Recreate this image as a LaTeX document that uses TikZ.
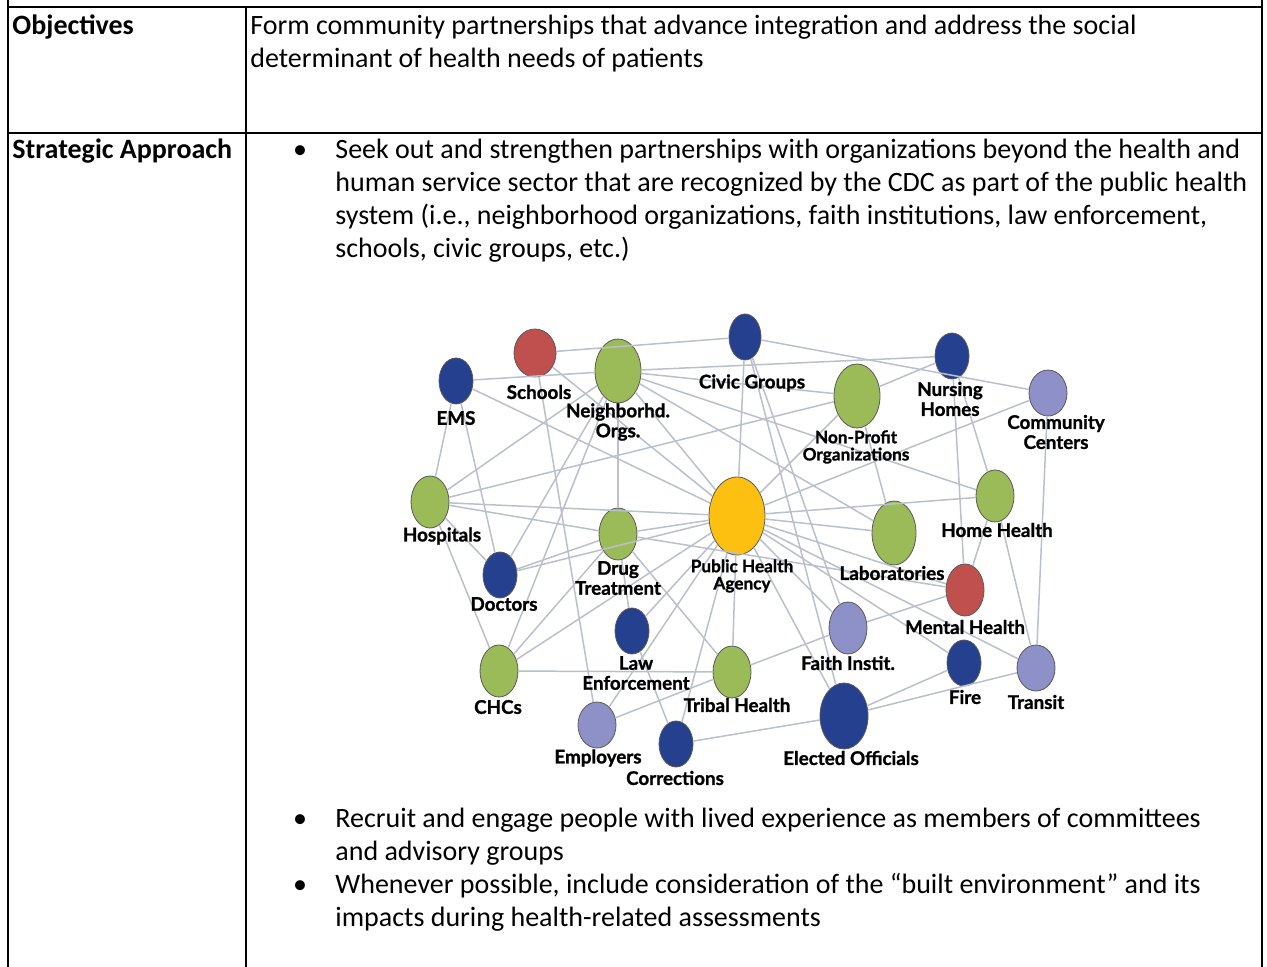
\documentclass[tikz,border=0pt]{standalone}
\usepackage{fontspec}
\setmainfont{Carlito}
\newfontfamily\netfont[BoldFeatures={FakeBold=1.2}]{Lato}
\usetikzlibrary{shapes.geometric}

\definecolor{netblue}{HTML}{25408F}
\definecolor{netred}{HTML}{C0504D}
\definecolor{netgreen}{HTML}{9BBB59}
\definecolor{netlilac}{HTML}{8E90C8}
\definecolor{netgold}{HTML}{FDC010}
\definecolor{netedge}{HTML}{B9C0CC}

\tikzset{
  rule/.style={line width=1pt},
  cell/.style={anchor=base west, inner sep=0pt, font=\fontsize{14}{16}\selectfont},
  head/.style={cell, font=\fontsize{14}{16}\selectfont\bfseries},
  dot/.style={anchor=base, inner sep=0pt, font=\fontsize{14}{16}\selectfont},
  hub/.style={ellipse, draw=black!65, line width=0.4pt, inner sep=0pt},
  tag/.style={inner sep=0pt, align=center, font=\netfont\bfseries\fontsize{9.4}{10}\selectfont},
  smalltag/.style={inner sep=0pt, align=center, font=\netfont\bfseries\fontsize{8.6}{8.6}\selectfont},
  link/.style={draw=netedge, line width=0.75pt},
}

\begin{document}
\begin{tikzpicture}[x=0.5pt,y=-0.5pt]
\useasboundingbox (0,0) rectangle (1267,967);

% table rules
\draw[rule] (8,7) -- (1262,7);
\draw[rule] (8,133) -- (1262,133);
\draw[rule] (8,0) -- (8,967);
\draw[rule] (246,7) -- (246,967);
\draw[rule] (1262,0) -- (1262,967);

% row 1
\node[head] (objhead) at (12,35) {Objectives};
\node[cell] (obj1) at (250,35) {Form community partnerships that advance integration and address the social};
\node[cell] (obj2) at (250,68) {determinant of health needs of patients};

% row 2
\node[head] (strathead) at (12,159) {Strategic Approach};
\node[dot] (b1) at (300,159) {\textbullet};
\node[cell] (s1) at (335,159) {Seek out and strengthen partnerships with organizations beyond the health and};
\node[cell] (s2) at (335,192) {human service sector that are recognized by the CDC as part of the public health};
\node[cell] (s3) at (335,225) {system (i.e., neighborhood organizations, faith institutions, law enforcement,};
\node[cell] (s4) at (335,258) {schools, civic groups, etc.)};

\node[dot] (b2) at (300,827) {\textbullet};
\node[cell] (r1) at (335,827) {Recruit and engage people with lived experience as members of committees};
\node[cell] (r2) at (335,860) {and advisory groups};
\node[dot] (b3) at (300,893) {\textbullet};
\node[cell] (w1) at (335,893) {Whenever possible, include consideration of the “built environment” and its};
\node[cell] (w2) at (335,926) {impacts during health-related assessments};

% network nodes
\foreach \n/\x/\y/\rx/\ry/\c in {
  ems/456/381/17/23/netblue, schools/535/353/21/24/netred,
  nbhd/618/371/23/32/netgreen, civic/745/337/16/23/netblue,
  hosp/430/502/19/26/netgreen, drug/618/534/19/26/netgreen,
  pha/737/516/28/39/netgold, nonprofit/857/396/23/32/netgreen,
  nursing/952/356/17/23/netblue, community/1048/393/19/23/netlilac,
  homehealth/995/496/19/26/netgreen, labs/894/533/22/32/netgreen,
  mental/965/590/19/26/netred, doctors/500/575/17/23/netblue,
  law/632/631/17/23/netblue, chcs/499/671/19/26/netgreen,
  employers/597/725/19/23/netlilac, corrections/676/744/17/23/netblue,
  tribal/732/672/19/26/netgreen, faith/848/628/19/26/netlilac,
  elected/844/716/24/33/netblue, fire/964/663/17/23/netblue,
  transit/1036/668/19/23/netlilac}
  \node[hub, fill=\c, minimum width=\rx pt, minimum height=\ry pt] (\n) at (\x,\y) {};

% links
\foreach \a/\b in {
  ems/nbhd, ems/hosp, ems/doctors, ems/pha,
  schools/civic, schools/employers, schools/pha,
  nbhd/nursing, nbhd/pha, nbhd/drug, nbhd/hosp, nbhd/chcs, nbhd/doctors,
  nbhd/nonprofit, nbhd/homehealth, nbhd/labs,
  civic/community, civic/pha, civic/elected, civic/faith,
  hosp/nonprofit, hosp/pha, hosp/drug, hosp/doctors, hosp/chcs,
  drug/law, drug/tribal, drug/doctors, drug/pha, drug/chcs, drug/mental,
  doctors/pha, chcs/tribal, chcs/pha,
  pha/nonprofit, pha/community, pha/homehealth, pha/labs, pha/mental,
  pha/faith, pha/fire, pha/transit, pha/elected, pha/tribal, pha/law,
  pha/employers, pha/corrections,
  nonprofit/nursing, nonprofit/labs, nursing/homehealth, nursing/mental,
  community/transit, homehealth/mental, homehealth/transit,
  mental/faith, faith/tribal, elected/fire, elected/transit,
  elected/corrections, tribal/employers, law/corrections}
  \draw[link] (\a) -- (\b);

% labels
\node[tag] (emstag) at (456,418) {EMS};
\node[tag] (schoolstag) at (539,392) {Schools};
\node[tag] (nbhdtag) at (618,422) {Neighborhd.\\Orgs.};
\node[tag] (civictag) at (752,383) {Civic Groups};
\node[tag] (hosptag) at (442,536) {Hospitals};
\node[tag] (drugtag) at (618,578) {Drug\\Treatment};
\node[smalltag] (phatag) at (742,576) {Public Health\\Agency};
\node[smalltag] (nonprofittag) at (856,447) {Non-Profit\\Organizations};
\node[tag] (nursingtag) at (950,399) {Nursing\\Homes};
\node[tag] (communitytag) at (1056,432) {Community\\Centers};
\node[tag] (hometag) at (997,530) {Home Health};
\node[tag] (labstag) at (892,573) {Laboratories};
\node[tag] (mentaltag) at (965,627) {Mental Health};
\node[tag] (doctorstag) at (504,604) {Doctors};
\node[tag] (lawtag) at (636,673) {Law\\Enforcement};
\node[tag] (chcstag) at (498,707) {CHCs};
\node[tag] (employerstag) at (598,758) {Employers};
\node[tag] (correctionstag) at (675,778) {Corrections};
\node[tag] (tribaltag) at (737,705) {Tribal Health};
\node[tag] (faithtag) at (848,663) {Faith Instit.};
\node[tag] (electedtag) at (851,758) {Elected Officials};
\node[tag] (firetag) at (965,697) {Fire};
\node[tag] (transittag) at (1036,702) {Transit};
\end{tikzpicture}
\end{document}
